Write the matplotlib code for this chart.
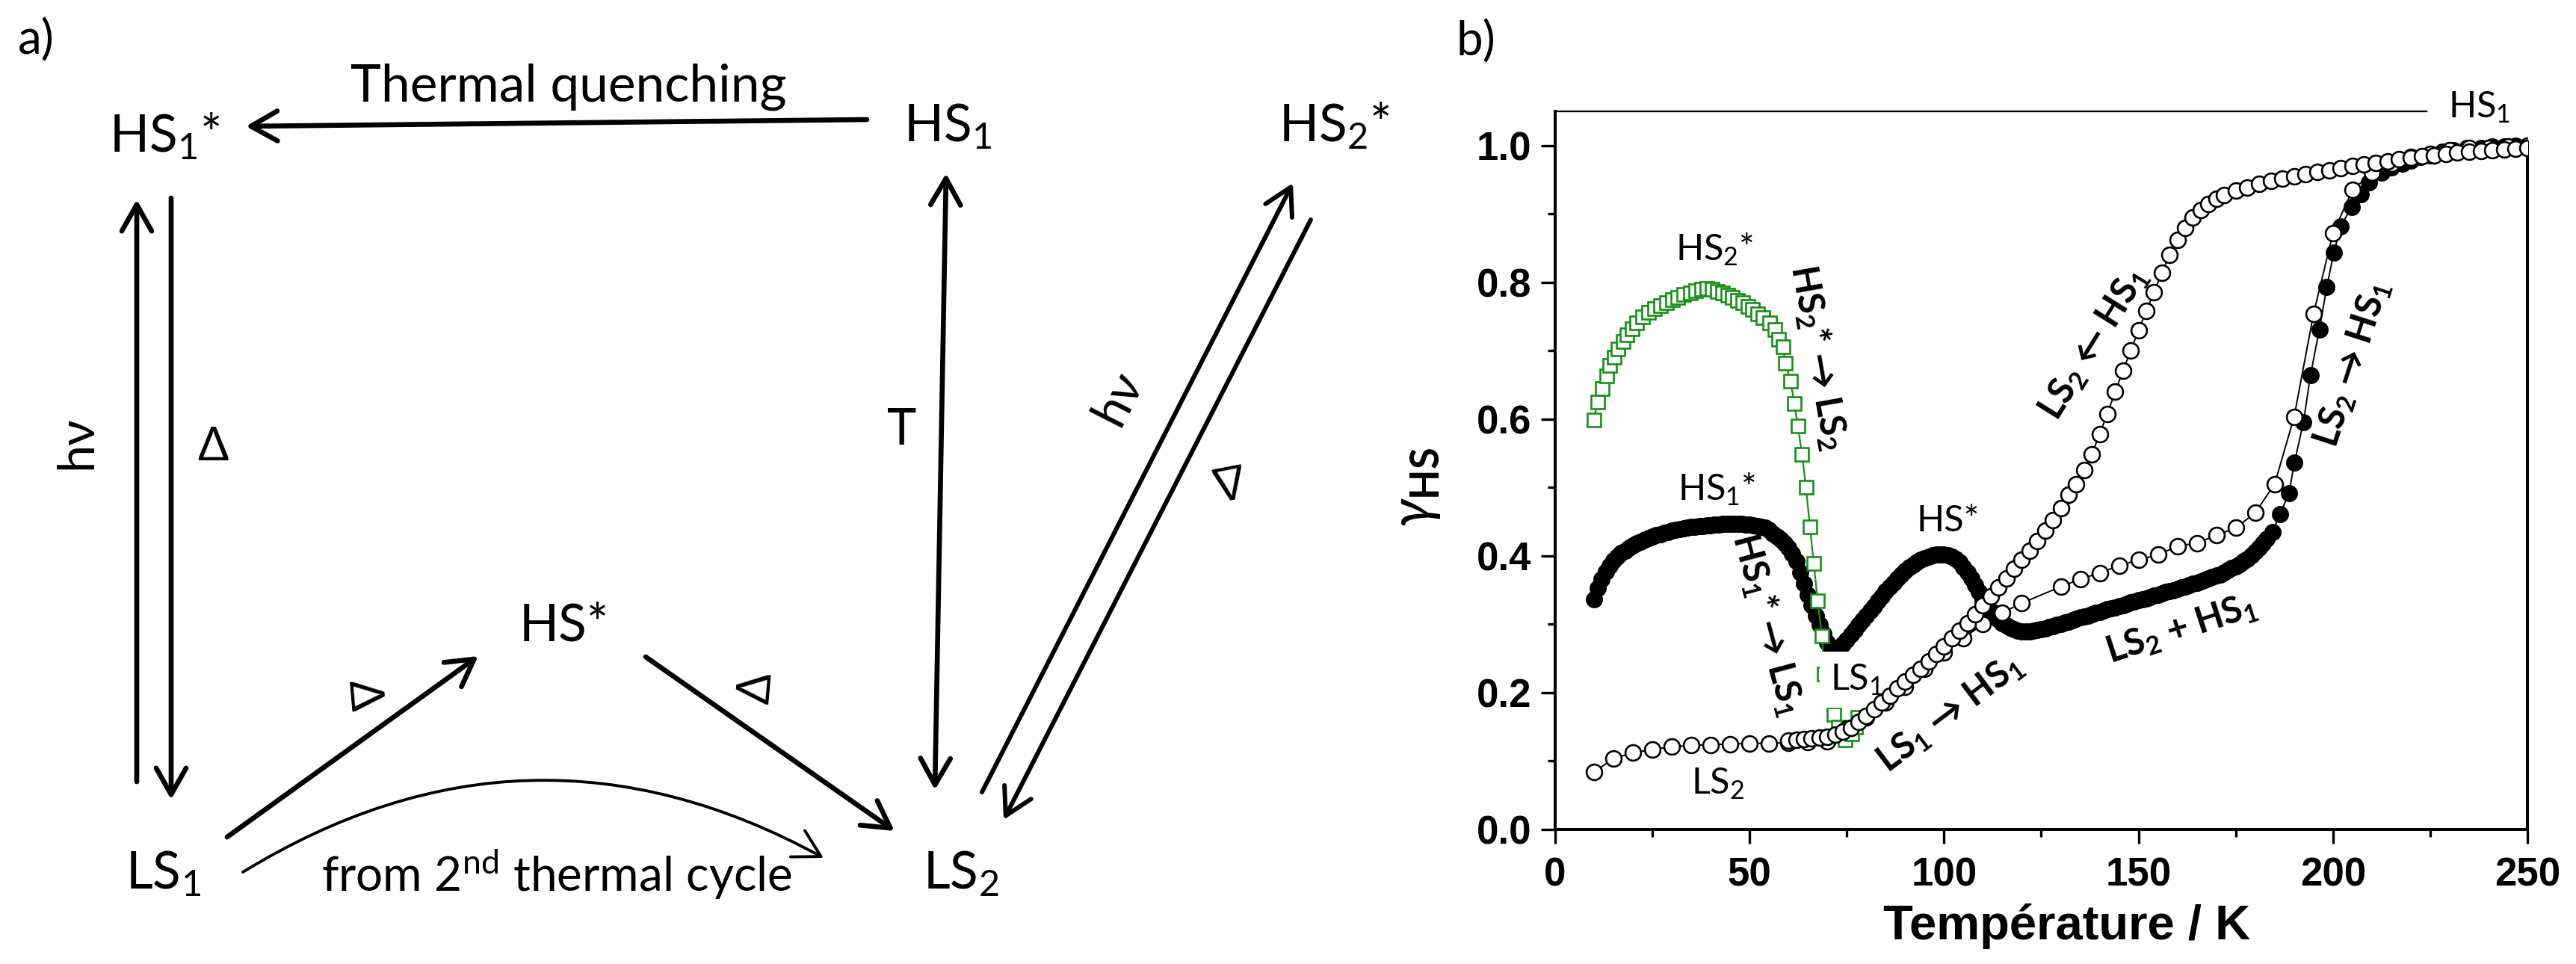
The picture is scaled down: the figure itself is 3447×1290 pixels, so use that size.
import matplotlib
matplotlib.use("Agg")
import matplotlib.pyplot as plt

plt.rcParams['mathtext.fontset'] = 'custom'
plt.rcParams['mathtext.rm'] = 'Lato'
plt.rcParams['mathtext.it'] = 'Lato:italic'
plt.rcParams['mathtext.bf'] = 'Lato:bold'
plt.rcParams['mathtext.fallback'] = 'stixsans'

LABEL_FONT = ['Lato', 'DejaVu Sans']
AXIS_FONT = ['Liberation Sans', 'DejaVu Sans']
GREEN = '#168f16'

# ---- panel b data ----
# HS2* relaxation, green open squares
sq_T = [9.9, 10.95, 12.1, 13.2, 14.1, 15.1, 16.2, 17.4, 18.4, 19.7, 21.0, 22.5,
        24.0, 25.5, 27.0, 28.6, 30.1, 31.6, 33.1, 34.7, 36.1, 37.6, 39.1, 40.4,
        41.7, 43.0, 44.3, 45.6, 46.9, 48.2, 49.5, 50.8, 52.1, 53.4, 55.1, 56.4,
        57.5, 58.6, 59.2, 60.5, 61.5, 62.4, 63.5, 64.5, 65.5, 66.5, 67.5, 68.6,
        69.2, 70.2, 71.6, 72.8, 74.5, 76.2, 77.3, 77.9]
sq_g = [0.599, 0.625, 0.645, 0.663, 0.678, 0.691, 0.703, 0.714, 0.723, 0.732,
        0.741, 0.749, 0.756, 0.762, 0.766, 0.770, 0.775, 0.778, 0.782, 0.785,
        0.788, 0.790, 0.791, 0.790, 0.787, 0.784, 0.781, 0.778, 0.774, 0.770,
        0.765, 0.760, 0.754, 0.748, 0.741, 0.731, 0.717, 0.706, 0.682, 0.656,
        0.623, 0.590, 0.548, 0.500, 0.443, 0.389, 0.334, 0.283, 0.227, 0.198,
        0.168, 0.150, 0.131, 0.140, 0.150, 0.164]

# first warming, filled circles
fill_T = [10, 11, 12, 13, 14, 15, 16, 17, 18, 19, 20, 21, 22, 23, 24, 25, 26, 27,
          28, 29, 30, 31, 32, 33, 34, 35, 36, 37, 38, 39, 40, 41, 42, 43, 44, 45,
          46, 47, 48, 49, 50, 51, 52, 53, 54, 55, 56, 57, 58, 59, 60, 61, 62, 63,
          64, 65, 66, 67, 68, 69, 70, 71,
          72, 73, 74, 75, 76, 77, 78, 79, 80, 81, 82, 83, 84, 85, 86, 87, 88, 89,
          90, 91, 92, 93, 94, 95, 96, 97, 98, 99, 100, 101, 102, 103, 104, 105,
          106, 107, 108, 109, 110, 111, 112, 113, 114, 115, 116, 117, 118, 119, 120,
          121, 122, 123, 124, 125, 126, 127, 128, 129, 130, 131, 132, 133, 134, 135,
          136, 137, 138, 139, 140, 141, 142, 143, 144, 145, 146, 147, 148, 149, 150,
          151, 152, 153, 154, 155, 156, 157, 158, 159, 160, 161, 162, 163, 164, 165,
          166, 167, 168, 169, 170, 171, 172, 173, 174, 175, 176, 177, 178, 179, 180,
          181, 182, 183,
          184.4, 186.4, 188.7, 190.1, 192.4, 194.2, 196.5, 198.4, 200.2, 202.0,
          204.8, 207.2, 209.3, 212.5, 215, 218, 220, 222.6, 225, 228, 231, 234.5,
          238, 241, 244, 247, 250]
fill_g = [0.336, 0.353, 0.366, 0.377, 0.386, 0.393, 0.399, 0.404, 0.408, 0.412,
          0.415, 0.418, 0.421, 0.424, 0.426, 0.428, 0.430, 0.432, 0.434, 0.435,
          0.437, 0.438, 0.439, 0.440, 0.441, 0.442, 0.443, 0.444, 0.444, 0.445,
          0.445, 0.446, 0.446, 0.447, 0.447, 0.447, 0.447, 0.447, 0.447, 0.446,
          0.446, 0.445, 0.444, 0.443, 0.441, 0.438, 0.433, 0.428, 0.424, 0.419,
          0.412, 0.403, 0.392, 0.376, 0.359, 0.343, 0.328, 0.313, 0.299, 0.286,
          0.273, 0.260,
          0.258, 0.264, 0.271, 0.278, 0.285, 0.292, 0.299, 0.306, 0.313, 0.320,
          0.327, 0.334, 0.341, 0.348, 0.355, 0.361, 0.367, 0.373, 0.378, 0.383,
          0.387, 0.391, 0.394, 0.397, 0.399, 0.401, 0.402, 0.402, 0.402, 0.401,
          0.399, 0.396, 0.391, 0.384, 0.376, 0.367, 0.357, 0.347, 0.337, 0.328,
          0.320, 0.313, 0.307, 0.302, 0.298, 0.295, 0.293, 0.291, 0.290,
          0.290, 0.290, 0.291, 0.292, 0.293, 0.294, 0.296, 0.297, 0.299, 0.301,
          0.303, 0.304, 0.306, 0.308, 0.310, 0.311, 0.313, 0.315, 0.317, 0.318,
          0.320, 0.322, 0.323, 0.325, 0.327, 0.328, 0.330, 0.332, 0.333, 0.335,
          0.337, 0.338, 0.340, 0.342, 0.343, 0.345, 0.347, 0.348, 0.350, 0.352,
          0.354, 0.355, 0.357, 0.359, 0.361, 0.363, 0.365, 0.367, 0.369, 0.371,
          0.373, 0.376, 0.379, 0.382, 0.385, 0.388, 0.392, 0.396, 0.401, 0.406,
          0.412, 0.418, 0.425,
          0.435, 0.461, 0.492, 0.537, 0.595, 0.664, 0.731, 0.793, 0.843, 0.882,
          0.910, 0.929, 0.946, 0.960, 0.968, 0.974, 0.978, 0.983, 0.986, 0.991,
          0.993, 0.996, 0.997, 0.999, 0.999, 1.000, 1.000]

# cooling branch LS2 <- HS1, open circles (dense)
cool_T = [60, 62, 64, 66, 68, 70, 72, 74, 76, 78, 80, 82, 84, 86, 88, 90, 92, 94,
          96, 98, 100, 102, 104, 106, 108, 110, 112, 114, 116, 118, 120, 122, 124,
          126, 128, 130, 132, 134, 136, 138, 140, 142, 144, 146, 148, 150, 152,
          154, 156, 158, 160, 162, 164, 166, 168, 170, 172, 175, 178, 181, 184,
          187, 190, 193, 196, 199, 202, 205, 208, 211, 214, 217, 220, 223, 226,
          229, 232, 235, 238, 241, 244, 247, 250]
cool_g = [0.130, 0.131, 0.132, 0.133, 0.134, 0.136, 0.139, 0.143, 0.149, 0.157,
          0.166, 0.176, 0.186, 0.196, 0.206, 0.216, 0.226, 0.235, 0.246, 0.257,
          0.268, 0.280, 0.291, 0.302, 0.315, 0.328, 0.341, 0.354, 0.367, 0.381,
          0.394, 0.408, 0.422, 0.437, 0.452, 0.470, 0.489, 0.505, 0.526, 0.549,
          0.578, 0.608, 0.640, 0.671, 0.700, 0.730, 0.758, 0.786, 0.814, 0.840,
          0.862, 0.880, 0.895, 0.906, 0.915, 0.922, 0.928, 0.934, 0.939, 0.944,
          0.948, 0.952, 0.955, 0.958, 0.961, 0.964, 0.967, 0.970, 0.972, 0.975,
          0.977, 0.980, 0.982, 0.984, 0.986, 0.988, 0.990, 0.991, 0.992, 0.993,
          0.994, 0.995, 0.996]

# second warming, open circles every 5 K
warm_T = [10, 15, 20, 25, 30, 35, 40, 45, 50, 55, 60, 65, 70, 75, 80, 85, 90, 95,
          100, 105, 110, 115, 120, 130, 135, 140, 145, 150, 155, 160, 165, 170,
          175, 180, 185, 190, 195, 200, 205, 210, 215, 220, 225, 230, 235, 240,
          245, 250]
warm_g = [0.084, 0.104, 0.112, 0.117, 0.121, 0.123, 0.124, 0.125, 0.126, 0.126,
          0.127, 0.128, 0.129, 0.148, 0.164, 0.186, 0.209, 0.235, 0.259, 0.280,
          0.300, 0.317, 0.331, 0.355, 0.366, 0.375, 0.386, 0.394, 0.402, 0.414,
          0.419, 0.430, 0.441, 0.463, 0.505, 0.603, 0.754, 0.872, 0.935, 0.960,
          0.974, 0.983, 0.988, 0.993, 0.996, 0.997, 0.999, 1.000]

x_ticks = [0, 50, 100, 150, 200, 250]
x_tick_labels = ['0', '50', '100', '150', '200', '250']
y_ticks = [0.0, 0.2, 0.4, 0.6, 0.8, 1.0]
y_tick_labels = ['0.0', '0.2', '0.4', '0.6', '0.8', '1.0']

# text, x, y, rotation, weight
curve_labels = [
    ('HS$_2$*', 41, 0.848, 0, 'normal'),
    ('HS$_1$*', 41.5, 0.497, 0, 'normal'),
    ('HS*', 101, 0.451, 0, 'normal'),
    ('LS$_2$', 41.8, 0.067, 0, 'normal'),
    ('HS$_\\mathbf{2}$* \u2192 LS$_\\mathbf{2}$', 67.6, 0.69, -80, 'bold'),
    ('HS$_\\mathbf{1}$* \u2192 LS$_\\mathbf{1}$', 54.7, 0.30, -75, 'bold'),
    ('LS$_\\mathbf{1}$ \u2192 HS$_\\mathbf{1}$', 101.6, 0.17, 37, 'bold'),
    ('LS$_\\mathbf{2}$ \u2190 HS$_\\mathbf{1}$', 138.5, 0.71, 58, 'bold'),
    ('LS$_\\mathbf{2}$ \u2192 HS$_\\mathbf{1}$', 205, 0.68, 72, 'bold'),
    ('LS$_\\mathbf{2}$ + HS$_\\mathbf{1}$', 161, 0.293, 18, 'bold'),
]

# ---- panel a: scheme, in pixel units of the figure ----
scheme_nodes = [
    ('HS$_1$*', 220, 203),
    ('HS$_1$', 1268, 189),
    ('HS$_2$*', 1785, 189),
    ('HS*', 755, 858),
    ('LS$_1$', 218, 1189),
    ('LS$_2$', 1286, 1189),
]
# start, end, arrow style, line width, curvature
scheme_arrows = [
    ((1160, 160), (329, 169), '->', 4.8, 0),
    ((183, 1046), (183, 267), '->', 4.8, 0),
    ((229, 265), (229, 1070), '->', 4.8, 0),
    ((1266, 232), (1251, 1057), '<->', 4.8, 0),
    ((1314, 1060), (1730, 245), '->', 4.3, 0),
    ((1754, 294), (1343, 1097), '->', 4.3, 0),
    ((304, 1120), (640, 878), '->', 4.8, 0),
    ((864, 879), (1197, 1112), '->', 4.8, 0),
    ((325, 1167), (1102, 1148), '->', 2.8, -0.29),
]
# text, x, y, rotation, size, vertical alignment
scheme_texts = [
    ('Thermal quenching', 761, 136, 0, 50, 'baseline'),
    ('from 2$^{\\mathrm{nd}}$ thermal cycle', 745, 1193, 0, 46, 'baseline'),
    ('h\u03bd', 103, 592, 90, 48, 'center'),
    ('\u0394', 285, 599, 0, 44, 'center'),
    ('T', 1207, 576, 0, 48, 'center'),
    ('h\u03bd', 1497, 533, 63, 48, 'center'),
    ('\u0394', 1643, 640, -169, 44, 'center'),
    ('\u0394', 485, 930, -85, 44, 'center'),
    ('\u0394', 1013, 921, 85, 44, 'center'),
    ('a)', 48, 54, 0, 46, 'center'),
    ('b)', 1975, 56, 0, 46, 'center'),
]

W, H = 3448, 1290
fig = plt.figure(figsize=(W / 100, H / 100), dpi=100)

ax0 = fig.add_axes([0, 0, 1, 1])
ax0.set_xlim(0, W)
ax0.set_ylim(H, 0)
ax0.axis('off')

for txt, x, y in scheme_nodes:
    ax0.text(x, y, txt, ha='center', va='baseline', fontsize=50, family=LABEL_FONT)

for (x0, y0), (x1, y1), style, lw, rad in scheme_arrows:
    ax0.annotate('', xy=(x1, y1), xytext=(x0, y0),
                 arrowprops=dict(arrowstyle=style + ',head_length=0.85,head_width=0.48',
                                 lw=lw, color='black', shrinkA=0, shrinkB=0,
                                 mutation_scale=30,
                                 connectionstyle='arc3,rad=%s' % rad))

for txt, x, y, rot, size, va in scheme_texts:
    ax0.text(x, y, txt, ha='center', va=va, rotation=rot, fontsize=size,
             family=LABEL_FONT)

# ---- panel b ----
ax1 = fig.add_axes([2081 / W, 1 - 1110 / H, 1301 / W, 961 / H])

ax1.plot(fill_T, fill_g, '-o', color='black', mfc='black', mec='black', ms=15,
         mew=1.5, lw=1.4, zorder=2)
ax1.plot(sq_T, sq_g, '-s', color=GREEN, mfc='white', mec=GREEN, ms=13,
         mew=1.9, lw=1.6, zorder=3)
ax1.plot(warm_T, warm_g, '-o', color='black', mfc='white', mec='black', ms=15,
         mew=1.9, lw=1.4, zorder=4)
ax1.plot(cool_T, cool_g, '-o', color='black', mfc='white', mec='black', ms=15,
         mew=1.9, lw=1.4, zorder=4)

for txt, x, y, rot, wt in curve_labels:
    ax1.text(x, y, txt, ha='center', va='center', rotation=rot, fontsize=35,
             fontweight=wt, family=LABEL_FONT, zorder=5)

ax1.text(77.6, 0.219, 'LS$_1$', ha='center', va='center', fontsize=35,
         family=LABEL_FONT, zorder=3.5,
         bbox=dict(facecolor='white', edgecolor='none', pad=10))
ax1.text(237.7, 1.056, 'HS$_1$', ha='center', va='center', fontsize=35,
         family=LABEL_FONT, clip_on=False)

ax1.set_xlim(0, 250)
ax1.set_ylim(0, 1.05)
ax1.set_xticks(x_ticks)
ax1.set_xticklabels(x_tick_labels)
ax1.set_yticks(y_ticks)
ax1.set_yticklabels(y_tick_labels)
ax1.set_xticks([25, 75, 125, 175, 225], minor=True)
ax1.set_yticks([0.1, 0.3, 0.5, 0.7, 0.9], minor=True)
ax1.tick_params(which='major', direction='out', length=14, width=2.4, labelsize=38)
ax1.tick_params(which='minor', direction='out', length=7, width=2.4)
ax1.tick_params(axis='x', pad=12)
ax1.tick_params(axis='y', pad=9)
for lab in ax1.get_xticklabels() + ax1.get_yticklabels():
    lab.set_fontfamily(AXIS_FONT)
    lab.set_fontweight('bold')

for sp in ax1.spines.values():
    sp.set_linewidth(2.9)
ax1.spines['top'].set_bounds(0, 224)
ax1.spines['top'].set_linewidth(1.7)
ax1.spines['right'].set_bounds(0, 1.005)

ax1.text(0.526, -0.153, 'Température / K', transform=ax1.transAxes,
         ha='center', va='baseline', fontsize=47, fontweight='bold',
         family=AXIS_FONT)
ax1.text(-0.1437, 0.4766, '$\\gamma_{\\mathbf{HS}}$', transform=ax1.transAxes,
         ha='center', va='center', rotation=90, fontsize=54)

fig.savefig('out.png', dpi=100)
